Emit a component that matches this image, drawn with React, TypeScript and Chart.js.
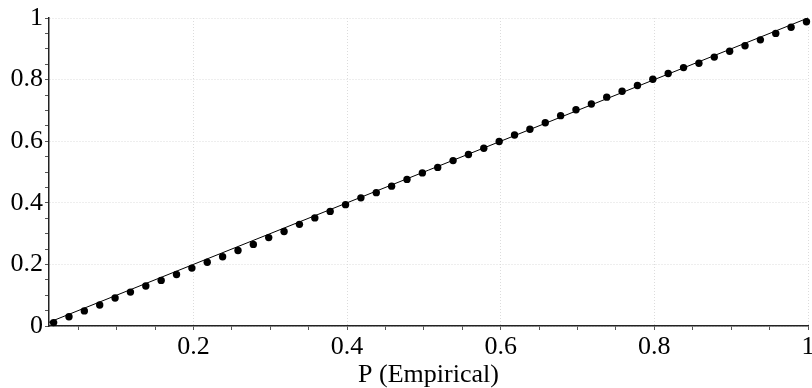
import React, { useEffect, useRef } from "react";
import { Chart, registerables } from "chart.js";

Chart.register(...registerables);

const empiricalP = [
  0.018, 0.038, 0.058, 0.078, 0.098, 0.118, 0.138, 0.158, 0.178, 0.198,
  0.218, 0.238, 0.258, 0.278, 0.298, 0.318, 0.338, 0.358, 0.378, 0.398,
  0.418, 0.438, 0.458, 0.478, 0.498, 0.518, 0.538, 0.558, 0.578, 0.598,
  0.618, 0.638, 0.658, 0.678, 0.698, 0.718, 0.738, 0.758, 0.778, 0.798,
  0.818, 0.838, 0.858, 0.878, 0.898, 0.918, 0.938, 0.958, 0.978, 0.998,
];

const theoreticalP = [
  0.011, 0.030, 0.049, 0.068, 0.091, 0.110, 0.130, 0.148, 0.167, 0.188,
  0.207, 0.225, 0.245, 0.265, 0.287, 0.307, 0.330, 0.351, 0.372, 0.394,
  0.416, 0.433, 0.454, 0.476, 0.497, 0.515, 0.537, 0.557, 0.577, 0.599,
  0.620, 0.639, 0.660, 0.683, 0.702, 0.721, 0.743, 0.762, 0.781, 0.801,
  0.820, 0.839, 0.853, 0.873, 0.892, 0.910, 0.929, 0.950, 0.970, 0.988,
];

const refLineX = [0.012, 1];
const refLineY = [0.012, 1];

const xTicks = [0.05, 0.1, 0.15, 0.2, 0.25, 0.3, 0.35, 0.4, 0.45, 0.5, 0.55, 0.6, 0.65, 0.7, 0.75, 0.8, 0.85, 0.9, 0.95, 1];
const yTicks = [0, 0.05, 0.1, 0.15, 0.2, 0.25, 0.3, 0.35, 0.4, 0.45, 0.5, 0.55, 0.6, 0.65, 0.7, 0.75, 0.8, 0.85, 0.9, 0.95, 1];
const xTitle = "P (Empirical)";

const FONT = '"Liberation Serif", serif';

const isMajor = (v: number) => Math.abs(v * 5 - Math.round(v * 5)) < 1e-6;
const fmt = (v: number) => (isMajor(v) ? String(Math.round(v * 5) / 5) : "");

export default function App() {
  const ref = useRef<HTMLCanvasElement | null>(null);
  useEffect(() => {
    let chart: Chart | null = null;
    let cancelled = false;
    const build = () => {
      if (cancelled || !ref.current) return;
      const gridColor = (ctx: any) => (ctx.tick && isMajor(ctx.tick.value) ? "#dcdcdc" : "rgba(0,0,0,0)");
      chart = new Chart(ref.current, {
        type: "scatter",
        data: {
          datasets: [
            {
              label: "points",
              data: empiricalP.map((x, i) => ({ x, y: theoreticalP[i] })),
              backgroundColor: "#000",
              borderColor: "#000",
              pointRadius: 3.7,
              pointBorderWidth: 0,
              showLine: false,
              clip: false as any,
            },
            {
              label: "ref",
              data: refLineX.map((x, i) => ({ x, y: refLineY[i] })),
              borderColor: "#000",
              borderWidth: 1,
              pointRadius: 0,
              showLine: true,
              clip: false as any,
            },
          ],
        },
        options: {
          animation: false,
          responsive: false,
          layout: { padding: { top: 18, right: 2, left: 0, bottom: 0 } },
          plugins: { legend: { display: false }, tooltip: { enabled: false } },
          scales: {
            x: {
              type: "linear",
              min: 0.012,
              max: 1,
              afterBuildTicks: (s: any) => {
                s.ticks = xTicks.map((v) => ({ value: v }));
              },
              afterFit: (s: any) => {
                s.height = 62;
                s.paddingLeft = 0;
                s.paddingRight = 0;
              },
              ticks: {
                autoSkip: false,
                maxRotation: 0,
                callback: (v: any) => fmt(Number(v)),
                font: { family: FONT, size: 26 },
                color: "#000",
                padding: 2,
              },
              grid: {
                color: gridColor,
                tickColor: "#555",
                tickLength: 4,
                lineWidth: 1,
              },
              border: { display: true, color: "#222", width: 1.5, dash: [1, 2] },
              title: {
                display: true,
                text: xTitle,
                font: { family: FONT, size: 26, lineHeight: 1.0 },
                color: "#000",
                padding: 0,
              },
            },
            y: {
              type: "linear",
              min: 0,
              max: 1,
              afterBuildTicks: (s: any) => {
                s.ticks = yTicks.map((v) => ({ value: v }));
              },
              afterFit: (s: any) => {
                s.width = 49;
                s.paddingTop = 0;
                s.paddingBottom = 0;
              },
              ticks: {
                autoSkip: false,
                callback: (v: any) => fmt(Number(v)),
                font: { family: FONT, size: 26 },
                color: "#000",
                padding: 2,
              },
              grid: {
                color: gridColor,
                tickColor: "#555",
                tickLength: 4,
                lineWidth: 1,
              },
              border: { display: true, color: "#222", width: 1.5, dash: [1, 2] },
            },
          },
        },
      } as any);
    };
    const fonts: any = (document as any).fonts;
    if (fonts && fonts.load) {
      fonts.load('26px "Liberation Serif"').then(build, build);
    } else {
      build();
    }
    return () => {
      cancelled = true;
      if (chart) chart.destroy();
    };
  }, []);
  return (
    <div style={{ position: "absolute", left: 0, top: 0, width: 812, height: 388, background: "#fff" }}>
      <span style={{ fontFamily: '"Liberation Serif"', position: "absolute", visibility: "hidden" }}>0.</span>
      <canvas ref={ref} width={812} height={388} style={{ display: "block" }} />
    </div>
  );
}
